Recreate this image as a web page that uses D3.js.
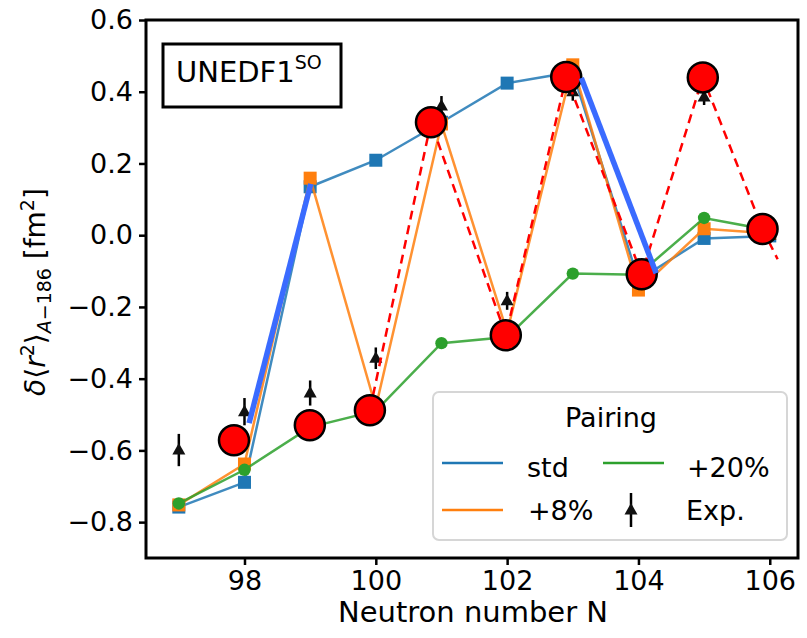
<!DOCTYPE html>
<html>
<head>
<meta charset="utf-8">
<script src="https://cdn.jsdelivr.net/npm/d3@7"></script>
<style>
  html, body { margin: 0; padding: 0; background: #fff; }
  svg { display: block; }
  text { font-family: "DejaVu Sans", sans-serif; fill: #000; }
</style>
</head>
<body>
<svg id="chart" width="807" height="638"></svg>
<script>
// Neutron numbers of the isotopic chain
const neutrons = [97, 98, 99, 100, 101, 102, 103, 104, 105, 106];

// UNEDF1^SO charge-radius differences for three pairing strengths [fm^2]
const pairStd = [-0.758, -0.689, 0.135, 0.209, 0.315, 0.424, 0.455, -0.125, -0.009, -0.002];
const pair8   = [-0.752, -0.638, 0.159, -0.480, 0.310, -0.270, 0.475, -0.153, 0.018, 0.005];
const pair20  = [-0.748, -0.654, -0.535, -0.490, -0.301, -0.284, -0.107, -0.110, 0.048, 0.014];

// Experimental values with uncertainties
const expVal = [-0.599, -0.492, -0.440, -0.343, 0.360, -0.183, 0.400, -0.090, 0.385, 0.000];
const expErr = [0.045, 0.038, 0.035, 0.030, 0.028, 0.025, 0.025, 0.025, 0.022, 0.020];

// Highlighted model points (large red markers)
const redN   = [97.84, 98.995, 99.91, 100.84, 101.98, 102.90, 104.05, 104.98, 105.89];
const redVal = [-0.572, -0.530, -0.488, 0.315, -0.279, 0.441, -0.109, 0.440, 0.017];

// Dashed odd-even trend line through the red markers
const trendN   = [99.91, 100.84, 101.98, 102.90, 104.05, 104.98, 105.89, 106.12];
const trendVal = [-0.488, 0.315, -0.279, 0.441, -0.109, 0.440, 0.017, -0.067];

// Kink guide segments
const kinkN   = [[98.07, 99.01], [103.13, 104.27]];
const kinkVal = [[-0.524, 0.143], [0.438, -0.106]];

// Axis ticks
const xTicks = [98, 100, 102, 104, 106];
const yTicks = [-0.8, -0.6, -0.4, -0.2, 0.0, 0.2, 0.4, 0.6];

const C_STD = "#1f77b4", C_8 = "#ff7f0e", C_20 = "#2ca02c";
const C_RED = "#ff0000", C_KINK = "#3a6bff";

const svg = d3.select("#chart");
const L = 146, R = 798, T = 20, B = 558;

const x = d3.scaleLinear().domain([96.5, 106.43]).range([L, R]);
const y = d3.scaleLinear().domain([-0.9, 0.6]).range([B, T]);

svg.append("defs").append("clipPath").attr("id", "plotclip")
  .append("rect").attr("x", L).attr("y", T).attr("width", R - L).attr("height", B - T);

const plot = svg.append("g").attr("clip-path", "url(#plotclip)");
const line = d3.line().x(d => x(d[0])).y(d => y(d[1]));

// Model series: lines + markers
function series(vals, color, shape) {
  const pts = neutrons.map((n, i) => [n, vals[i]]);
  const g = plot.append("g");
  g.append("path").attr("d", line(pts)).attr("fill", "none")
    .attr("stroke", color).attr("stroke-width", 2.5).attr("stroke-opacity", 0.85);
  if (shape === "square") {
    g.selectAll("rect").data(pts).join("rect")
      .attr("x", d => x(d[0]) - 6.5).attr("y", d => y(d[1]) - 6.5)
      .attr("width", 13).attr("height", 13).attr("fill", color);
  } else {
    g.selectAll("circle").data(pts).join("circle")
      .attr("cx", d => x(d[0])).attr("cy", d => y(d[1])).attr("r", 6.2).attr("fill", color);
  }
}
series(pairStd, C_STD, "square");
series(pair8, C_8, "square");
series(pair20, C_20, "circle");

// Experimental points with error bars
const tri = "M0,-7L6.5,4.5L-6.5,4.5Z";
const expG = plot.append("g");
neutrons.forEach((n, i) => {
  expG.append("line")
    .attr("x1", x(n)).attr("x2", x(n))
    .attr("y1", y(expVal[i] - expErr[i])).attr("y2", y(expVal[i] + expErr[i]))
    .attr("stroke", "#000").attr("stroke-width", 2.5);
  expG.append("path").attr("d", tri)
    .attr("transform", `translate(${x(n)},${y(expVal[i])})`)
    .attr("fill", "#111");
});

// Dashed trend
plot.append("path")
  .attr("d", line(trendN.map((n, i) => [n, trendVal[i]])))
  .attr("fill", "none").attr("stroke", C_RED).attr("stroke-width", 2.5)
  .attr("stroke-dasharray", "9,6");

// Red markers
plot.append("g").selectAll("circle")
  .data(redN.map((n, i) => [n, redVal[i]])).join("circle")
  .attr("cx", d => x(d[0])).attr("cy", d => y(d[1])).attr("r", 15)
  .attr("fill", C_RED).attr("stroke", "#000").attr("stroke-width", 2.5);

// Kink guides
kinkN.forEach((ns, k) => {
  plot.append("path")
    .attr("d", line(ns.map((n, i) => [n, kinkVal[k][i]])))
    .attr("stroke", C_KINK).attr("stroke-width", 5.5).attr("fill", "none");
});

// Axes
const fmt = d => (d < 0 ? "\u2212" : "") + Math.abs(d).toFixed(1);
const yAxis = svg.append("g").attr("transform", `translate(${L},0)`)
  .call(d3.axisLeft(y).tickValues(yTicks).tickFormat(fmt).tickSize(7).tickPadding(6));
const xAxis = svg.append("g").attr("transform", `translate(0,${B})`)
  .call(d3.axisBottom(x).tickValues(xTicks).tickFormat(d3.format("d")).tickSize(7).tickPadding(6));
[yAxis, xAxis].forEach(a => {
  a.select(".domain").remove();
  a.selectAll(".tick line").attr("stroke", "#000").attr("stroke-width", 2.5);
  a.selectAll(".tick text").attr("font-size", 27).attr("font-family", "DejaVu Sans").attr("fill", "#000");
});

// Frame
svg.append("rect").attr("x", L).attr("y", T).attr("width", R - L).attr("height", B - T)
  .attr("fill", "none").attr("stroke", "#000").attr("stroke-width", 3);

// Axis titles
svg.append("text").attr("x", (L + R) / 2 + 1).attr("y", 622).attr("text-anchor", "middle")
  .attr("font-size", 29).text("Neutron number N");

const yl = svg.append("text").attr("text-anchor", "middle")
  .attr("transform", `translate(45,${(T + B) / 2 + 3}) rotate(-90)`).attr("font-size", 28);
yl.append("tspan").attr("font-style", "italic").text("\u03b4");
yl.append("tspan").text("\u27e8");
yl.append("tspan").attr("font-style", "italic").text("r");
yl.append("tspan").attr("font-size", 19).attr("dy", -11).text("2");
yl.append("tspan").attr("dy", 11).text("\u27e9");
yl.append("tspan").attr("font-size", 19).attr("dy", 6).attr("font-style", "italic").text("A");
yl.append("tspan").attr("font-size", 19).text("\u2212186");
yl.append("tspan").attr("dy", -6).text(" [fm");
yl.append("tspan").attr("font-size", 19).attr("dy", -11).text("2");
yl.append("tspan").attr("dy", 11).text("]");

// Model label box
svg.append("rect").attr("x", 163).attr("y", 44).attr("width", 178).attr("height", 63)
  .attr("fill", "#fff").attr("stroke", "#000").attr("stroke-width", 3);
const lab = svg.append("text").attr("x", 176).attr("y", 82).attr("font-size", 29);
lab.append("tspan").text("UNEDF1");
lab.append("tspan").attr("font-size", 19).attr("dy", -13).text("SO");

// Legend
const lg = svg.append("g");
lg.append("rect").attr("x", 433).attr("y", 392).attr("width", 354).attr("height", 148)
  .attr("rx", 6).attr("fill", "#fff").attr("fill-opacity", 0.8)
  .attr("stroke", "#d6d6d6").attr("stroke-width", 2);
lg.append("text").attr("x", 611).attr("y", 427).attr("text-anchor", "middle")
  .attr("font-size", 27).text("Pairing");
const entries = [
  { c: C_STD, label: "std", lx: 442, tx: 527, ly: 463, ty: 477 },
  { c: C_20, label: "+20%", lx: 603, tx: 687, ly: 463, ty: 477 },
  { c: C_8, label: "+8%", lx: 442, tx: 528, ly: 510, ty: 520 }
];
entries.forEach(e => {
  lg.append("line").attr("x1", e.lx).attr("x2", e.lx + 61).attr("y1", e.ly).attr("y2", e.ly)
    .attr("stroke", e.c).attr("stroke-width", 2.5);
  lg.append("text").attr("x", e.tx).attr("y", e.ty).attr("font-size", 27).text(e.label);
});
lg.append("line").attr("x1", 631).attr("x2", 631).attr("y1", 493).attr("y2", 527)
  .attr("stroke", "#000").attr("stroke-width", 2.5);
lg.append("path").attr("d", tri).attr("transform", "translate(631,510)").attr("fill", "#111");
lg.append("text").attr("x", 686).attr("y", 520).attr("font-size", 27).text("Exp.");
</script>
</body>
</html>
